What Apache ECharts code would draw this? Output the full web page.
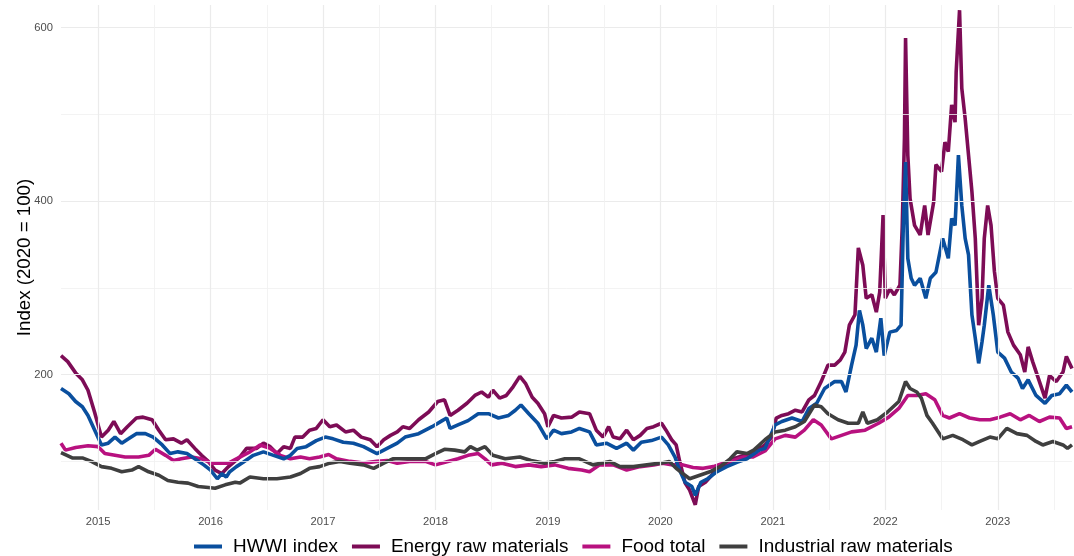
<!DOCTYPE html>
<html>
<head>
<meta charset="utf-8">
<script src="https://cdn.jsdelivr.net/npm/echarts@6/dist/echarts.min.js"></script>
<style>
  html, body { margin: 0; padding: 0; background: #fff; }
  #chart { width: 1074px; height: 556px; }
</style>
</head>
<body>
<div id="chart"></div>
<script>
// time is given as decimal year, values are index points (2020 = 100)
const seriesNames = ['HWWI index', 'Energy raw materials', 'Food total', 'Industrial raw materials'];
const seriesColors = ['#0A4F9E', '#7D0C56', '#B8117F', '#3F3F3F'];
const yearTicks = [2015, 2016, 2017, 2018, 2019, 2020, 2021, 2022, 2023];
const valueTicks = [200, 400, 600];

const hwwiIndex = [
  [2014.67,184],[2014.74,178],[2014.80,169],[2014.86,163],[2014.91,153],[2014.97,136],[2015.03,119],[2015.09,121],
  [2015.15,128],[2015.21,121],[2015.27,126],[2015.34,132],[2015.42,132],[2015.49,128],[2015.57,119],[2015.64,109],
  [2015.71,111],[2015.79,109],[2015.86,103],[2015.94,96],[2016.00,90],[2016.06,80],[2016.10,86],[2016.14,82],
  [2016.17,88],[2016.23,94],[2016.29,99],[2016.38,107],[2016.47,111],[2016.56,107],[2016.65,103],[2016.71,107],
  [2016.77,115],[2016.85,117],[2016.94,124],[2017.02,128],[2017.09,126],[2017.18,122],[2017.27,121],[2017.36,117],
  [2017.48,109],[2017.57,115],[2017.66,121],[2017.73,128],[2017.85,132],[2017.97,140],[2018.06,147],[2018.10,150],
  [2018.13,138],[2018.20,142],[2018.29,147],[2018.38,155],[2018.47,155],[2018.56,150],[2018.65,153],[2018.71,159],
  [2018.76,165],[2018.83,155],[2018.91,144],[2018.99,126],[2019.05,136],[2019.12,132],[2019.21,134],[2019.28,138],
  [2019.37,134],[2019.43,119],[2019.52,121],[2019.61,115],[2019.70,121],[2019.76,113],[2019.83,122],[2019.92,124],
  [2020.01,128],[2020.07,119],[2020.13,105],[2020.17,90],[2020.22,76],[2020.28,71],[2020.31,61],[2020.36,76],
  [2020.42,80],[2020.50,88],[2020.59,94],[2020.68,99],[2020.77,103],[2020.88,113],[2020.93,115],[2021.02,142],
  [2021.08,146],[2021.17,150],[2021.26,146],[2021.32,161],[2021.39,167],[2021.46,184],[2021.55,192],[2021.61,192],
  [2021.65,180],[2021.70,211],[2021.74,234],[2021.77,274],[2021.80,257],[2021.83,230],[2021.88,242],[2021.92,226],
  [2021.96,265],[2021.99,222],[2022.04,249],[2022.10,251],[2022.14,257],[2022.16,372],[2022.18,445],[2022.20,334],
  [2022.23,311],[2022.26,303],[2022.31,311],[2022.36,288],[2022.40,311],[2022.45,318],[2022.51,357],[2022.56,334],
  [2022.59,380],[2022.62,372],[2022.65,453],[2022.68,395],[2022.71,357],[2022.74,338],[2022.77,269],[2022.80,242],
  [2022.83,213],[2022.86,238],[2022.88,257],[2022.92,303],[2022.96,269],[2023.00,226],[2023.06,219],[2023.12,203],
  [2023.18,196],[2023.22,184],[2023.27,194],[2023.34,176],[2023.42,167],[2023.48,176],[2023.55,178],[2023.61,188],
  [2023.66,180]
];

const energyRaw = [
  [2014.67,222],[2014.73,215],[2014.80,202],[2014.86,194],[2014.91,182],[2014.97,156],[2015.03,128],[2015.09,136],
  [2015.14,146],[2015.20,132],[2015.26,140],[2015.34,150],[2015.40,151],[2015.48,148],[2015.54,136],[2015.60,125],
  [2015.67,126],[2015.74,121],[2015.79,125],[2015.86,115],[2015.92,107],[2015.98,100],[2016.04,90],[2016.10,86],
  [2016.16,94],[2016.26,105],[2016.32,115],[2016.41,115],[2016.47,121],[2016.53,117],[2016.59,109],[2016.65,117],
  [2016.71,115],[2016.75,128],[2016.82,128],[2016.88,136],[2016.94,138],[2017.00,148],[2017.06,140],[2017.12,142],
  [2017.20,134],[2017.27,136],[2017.34,128],[2017.42,125],[2017.48,117],[2017.54,125],[2017.60,130],[2017.66,134],
  [2017.71,140],[2017.77,138],[2017.85,148],[2017.94,157],[2018.02,169],[2018.08,171],[2018.13,153],[2018.20,159],
  [2018.28,167],[2018.35,176],[2018.41,180],[2018.47,174],[2018.51,182],[2018.57,173],[2018.63,176],[2018.69,186],
  [2018.75,198],[2018.80,190],[2018.86,174],[2018.91,167],[2018.97,155],[2019.00,140],[2019.05,153],[2019.12,150],
  [2019.21,151],[2019.28,157],[2019.37,155],[2019.43,136],[2019.49,128],[2019.54,140],[2019.58,128],[2019.64,126],
  [2019.70,136],[2019.76,125],[2019.82,130],[2019.88,138],[2019.94,140],[2020.01,144],[2020.05,136],[2020.10,125],
  [2020.14,119],[2020.17,101],[2020.22,75],[2020.26,67],[2020.31,50],[2020.34,71],[2020.40,76],[2020.47,86],
  [2020.56,94],[2020.65,103],[2020.74,107],[2020.83,110],[2020.93,119],[2020.99,128],[2021.03,150],[2021.08,153],
  [2021.14,155],[2021.20,159],[2021.26,157],[2021.32,171],[2021.37,176],[2021.43,192],[2021.49,211],[2021.55,211],
  [2021.60,217],[2021.64,226],[2021.68,257],[2021.73,269],[2021.76,346],[2021.80,326],[2021.83,288],[2021.88,292],
  [2021.92,272],[2021.95,295],[2021.98,384],[2022.00,288],[2022.04,299],[2022.08,292],[2022.13,303],[2022.15,369],
  [2022.17,472],[2022.18,588],[2022.20,453],[2022.22,403],[2022.26,372],[2022.31,361],[2022.35,395],[2022.38,361],
  [2022.43,399],[2022.45,442],[2022.50,434],[2022.53,468],[2022.56,457],[2022.59,511],[2022.62,491],[2022.63,549],
  [2022.66,620],[2022.68,530],[2022.71,495],[2022.74,453],[2022.77,411],[2022.80,357],[2022.83,257],[2022.86,288],
  [2022.88,357],[2022.91,395],[2022.94,372],[2022.97,319],[2023.00,288],[2023.05,280],[2023.09,249],[2023.14,234],
  [2023.20,223],[2023.24,203],[2023.27,232],[2023.31,215],[2023.36,196],[2023.42,173],[2023.46,199],[2023.52,192],
  [2023.58,203],[2023.61,221],[2023.66,207]
];

const foodTotal = [
  [2014.67,121],[2014.71,113],[2014.80,116],[2014.91,118],[2015.00,117],[2015.06,109],[2015.15,107],[2015.24,105],
  [2015.36,105],[2015.45,107],[2015.51,114],[2015.60,107],[2015.67,101],[2015.74,103],[2015.83,105],[2015.92,103],
  [2016.01,98],[2016.10,98],[2016.16,98],[2016.23,103],[2016.35,111],[2016.44,119],[2016.53,115],[2016.62,107],
  [2016.71,103],[2016.80,105],[2016.88,103],[2016.97,105],[2017.05,108],[2017.12,103],[2017.24,100],[2017.36,98],
  [2017.48,100],[2017.57,101],[2017.66,98],[2017.77,100],[2017.91,100],[2018.00,96],[2018.11,100],[2018.20,103],
  [2018.29,107],[2018.38,109],[2018.44,103],[2018.50,96],[2018.59,98],[2018.71,94],[2018.83,96],[2018.94,94],
  [2019.06,96],[2019.18,92],[2019.30,90],[2019.37,88],[2019.46,96],[2019.58,96],[2019.70,90],[2019.82,94],
  [2019.94,96],[2020.02,98],[2020.11,96],[2020.20,96],[2020.29,93],[2020.38,92],[2020.47,94],[2020.56,98],
  [2020.65,101],[2020.74,105],[2020.82,105],[2020.93,112],[2021.02,126],[2021.11,130],[2021.20,128],[2021.28,136],
  [2021.36,148],[2021.43,142],[2021.52,126],[2021.61,130],[2021.70,134],[2021.82,136],[2021.94,144],[2022.03,151],
  [2022.12,161],[2022.20,176],[2022.28,176],[2022.36,178],[2022.44,171],[2022.51,153],[2022.57,150],[2022.66,155],
  [2022.75,150],[2022.84,148],[2022.93,148],[2023.02,151],[2023.11,155],[2023.20,148],[2023.28,153],[2023.37,146],
  [2023.46,151],[2023.55,150],[2023.61,138],[2023.66,140]
];

const industrialRaw = [
  [2014.67,110],[2014.77,104],[2014.86,104],[2014.94,100],[2015.03,94],[2015.12,92],[2015.21,88],[2015.30,90],
  [2015.36,94],[2015.45,88],[2015.54,84],[2015.62,78],[2015.71,76],[2015.80,75],[2015.89,71],[2015.98,70],
  [2016.04,69],[2016.13,73],[2016.22,76],[2016.26,75],[2016.35,82],[2016.47,80],[2016.59,80],[2016.71,82],
  [2016.80,86],[2016.88,92],[2016.97,94],[2017.06,98],[2017.15,100],[2017.24,98],[2017.36,96],[2017.45,92],
  [2017.54,98],[2017.62,103],[2017.73,103],[2017.91,103],[2018.00,109],[2018.08,114],[2018.17,113],[2018.26,111],
  [2018.31,117],[2018.37,113],[2018.44,117],[2018.51,107],[2018.62,103],[2018.75,105],[2018.85,101],[2018.97,98],
  [2019.06,100],[2019.15,103],[2019.28,103],[2019.40,96],[2019.55,100],[2019.64,94],[2019.76,94],[2019.88,96],
  [2020.00,98],[2020.08,100],[2020.14,92],[2020.20,86],[2020.26,80],[2020.35,84],[2020.44,88],[2020.53,94],
  [2020.62,103],[2020.68,111],[2020.77,109],[2020.83,113],[2020.93,125],[2021.02,134],[2021.11,136],[2021.20,140],
  [2021.28,146],[2021.37,165],[2021.43,163],[2021.49,155],[2021.58,148],[2021.67,144],[2021.76,144],[2021.80,157],
  [2021.84,144],[2021.93,148],[2022.02,157],[2022.12,169],[2022.18,192],[2022.22,184],[2022.28,180],[2022.32,173],
  [2022.37,153],[2022.42,144],[2022.51,126],[2022.60,130],[2022.69,125],[2022.77,119],[2022.84,123],[2022.93,128],
  [2023.00,126],[2023.08,138],[2023.17,132],[2023.26,130],[2023.34,123],[2023.40,119],[2023.49,123],[2023.58,119],
  [2023.62,115],[2023.66,119]
];

const seriesData = [hwwiIndex, energyRaw, foodTotal, industrialRaw];
// drawing order: energy first, industrial last (on top)
const drawOrder = [1, 2, 0, 3];

const chart = echarts.init(document.getElementById('chart'), null, { renderer: 'canvas' });

// grid lines: major at labels, minor halfway between
const gridMarks = [];
[100, 300, 500].forEach(v => gridMarks.push({ yAxis: v, lineStyle: { color: '#f0f0f0', width: 0.8 } }));
valueTicks.forEach(v => gridMarks.push({ yAxis: v, lineStyle: { color: '#ebebeb', width: 1.2 } }));
yearTicks.forEach(y => {
  gridMarks.push({ xAxis: y, lineStyle: { color: '#ebebeb', width: 1.2 } });
  gridMarks.push({ xAxis: y + 0.5, lineStyle: { color: '#f0f0f0', width: 0.8 } });
});

const series = [{
  name: 'grid',
  type: 'line',
  data: [],
  silent: true,
  z: 1,
  markLine: {
    silent: true,
    symbol: 'none',
    animation: false,
    label: { show: false },
    lineStyle: { type: 'solid' },
    data: gridMarks
  }
}];
drawOrder.forEach(i => {
  series.push({
    name: seriesNames[i],
    type: 'line',
    data: seriesData[i],
    symbol: 'none',
    z: 2,
    lineStyle: { color: seriesColors[i], width: 3.6 },
    itemStyle: { color: seriesColors[i] }
  });
});

const option = {
  animation: false,
  backgroundColor: '#ffffff',
  grid: { left: 61, right: 2, top: 5, bottom: 46 },
  xAxis: {
    type: 'value',
    min: 2014.67,
    max: 2023.66,
    axisLine: { show: false },
    axisTick: { show: false },
    splitLine: { show: false },
    axisLabel: {
      customValues: yearTicks,
      formatter: v => String(Math.round(v)),
      color: '#4d4d4d',
      fontSize: 11.2,
      fontFamily: 'Liberation Sans, Arial, sans-serif',
      margin: 6
    }
  },
  yAxis: {
    type: 'value',
    min: 44,
    max: 626,
    name: 'Index (2020 = 100)',
    nameLocation: 'middle',
    nameGap: 27,
    nameMoveOverlap: false,
    nameTextStyle: { color: '#000', fontSize: 18.7, fontFamily: 'Liberation Sans, Arial, sans-serif' },
    axisLine: { show: false },
    axisTick: { show: false },
    splitLine: { show: false },
    axisLabel: {
      customValues: valueTicks,
      color: '#4d4d4d',
      fontSize: 11.2,
      fontFamily: 'Liberation Sans, Arial, sans-serif',
      margin: 8
    }
  },
  legend: {
    data: seriesNames,
    left: 194,
    top: 537,
    padding: 0,
    icon: 'rect',
    itemWidth: 28,
    itemHeight: 4,
    itemGap: 14,
    textStyle: {
      color: '#000',
      fontSize: 18.9,
      fontFamily: 'Liberation Sans, Arial, sans-serif',
      padding: [0, 0, 0, 6]
    }
  },
  series: series
};

chart.setOption(option);
</script>
</body>
</html>
